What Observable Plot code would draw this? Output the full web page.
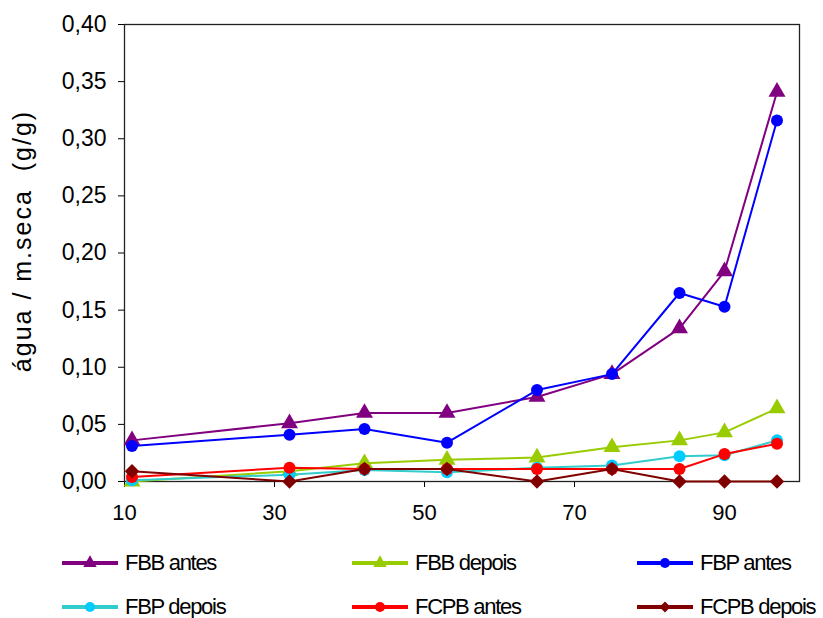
<!DOCTYPE html>
<html><head><meta charset="utf-8">
<script src="https://cdn.jsdelivr.net/npm/d3@7"></script>
<script src="https://cdn.jsdelivr.net/npm/@observablehq/plot@0.6"></script>
<style>
body{margin:0;background:#fff;font-family:"Liberation Sans",Arial,sans-serif;}
#wrap{position:relative;width:823px;height:618px;overflow:hidden;}
.leg{position:absolute;display:flex;align-items:center;font-size:22px;letter-spacing:-1.3px;color:#000;height:30px;}
.leg svg{margin-right:7px;}
.ylab text{letter-spacing:2px;}
</style></head><body><div id="wrap"></div>
<script>
// x values (tick positions on horizontal axis)
const xValues = [11, 32, 42, 53, 65, 75, 84, 90, 97];
const fbbAntes  = [0.036, 0.051, 0.060, 0.060, 0.074, 0.094, 0.134, 0.184, 0.341];
const fbbDepois = [0.000, 0.009, 0.016, 0.019, 0.021, 0.030, 0.036, 0.043, 0.064];
const fbpAntes  = [0.031, 0.041, 0.046, 0.034, 0.080, 0.094, 0.165, 0.153, 0.316];
const fbpDepois = [0.001, 0.006, 0.010, 0.008, 0.012, 0.014, 0.022, 0.023, 0.036];
const fcpbAntes = [0.004, 0.012, 0.011, 0.011, 0.011, 0.011, 0.011, 0.024, 0.033];
const fcpbDepois= [0.009, 0.000, 0.011, 0.011, 0.000, 0.011, 0.000, 0.000, 0.000];
const seriesNames = ["FBB antes","FBB depois","FBP antes","FBP depois","FCPB antes","FCPB depois"];
const xTicks = [10, 30, 50, 70, 90];
const yTicks = [0, 0.05, 0.10, 0.15, 0.20, 0.25, 0.30, 0.35, 0.40];
const yLabel = "água / m.seca  (g/g)";

const seriesValues = [fbbAntes, fbbDepois, fbpAntes, fbpDepois, fcpbAntes, fcpbDepois];
const styles = [
  {line:"#800080", fill:"#800080", sym:d3.symbolTriangle, r:6.3},
  {line:"#99CC00", fill:"#99CC00", sym:d3.symbolTriangle, r:6.3},
  {line:"#0000FF", fill:"#0000FF", sym:d3.symbolCircle, r:6},
  {line:"#33CCCC", fill:"#00CCFF", sym:d3.symbolCircle, r:6},
  {line:"#FF0000", fill:"#FF0000", sym:d3.symbolCircle, r:6},
  {line:"#800000", fill:"#800000", sym:d3.symbolDiamond2, r:6.5}
];
const rows = seriesNames.map((name, i) => xValues.map((x, j) => ({series: name, x, y: seriesValues[i][j]})));

const marks = [];
rows.forEach((data, i) => {
  marks.push(Plot.line(data, {x:"x", y:"y", stroke: styles[i].line, strokeWidth: 2}));
  marks.push(Plot.dot(data, {x:"x", y:"y", fill: styles[i].fill, stroke: "none", symbol: styles[i].sym, r: styles[i].r}));
});

const chart = Plot.plot({
  width: 823, height: 530,
  marginTop: 24, marginBottom: 49, marginLeft: 124, marginRight: 24,
  style: {fontFamily: "'Liberation Sans', Arial, sans-serif", fontSize: "22px", color: "#000", background: "#fff"},
  x: {domain: [10, 100]},
  y: {domain: [0, 0.4]},
  marks: [
    Plot.axisX({ticks: xTicks, tickSize: 6, tickPadding: 17, tickFormat: d => String(d), label: null, fontSize: 22}),
    Plot.axisY({ticks: yTicks, tickSize: 6, tickPadding: 12, tickFormat: d => d.toFixed(2).replace(".", ","), label: null, fontSize: 23}),
    Plot.text([yLabel], {text: d => d, frameAnchor: "left", textAnchor: "middle", lineAnchor: "middle", rotate: -90, dx: -102, dy: -12, fontSize: 25, fill: "#000", className: "ylab"}),
    Plot.frame({stroke: "#222", strokeWidth: 1.3}),
    ...marks
  ]
});
const wrap = document.getElementById("wrap");
wrap.appendChild(chart);

// legend
const legPos = [[62,548],[352,548],[637,548],[62,592],[352,592],[637,592]];
seriesNames.forEach((name, i) => {
  const div = document.createElement("div");
  div.className = "leg";
  div.style.left = legPos[i][0] + "px";
  div.style.top = legPos[i][1] + "px";
  const s = d3.create("svg").attr("width", 56).attr("height", 20);
  s.append("line").attr("x1", 0).attr("x2", 56).attr("y1", 10).attr("y2", 10)
    .attr("stroke", styles[i].line).attr("stroke-width", 4);
  s.append("path").attr("transform", "translate(28,10)")
    .attr("d", d3.symbol(styles[i].sym, Math.PI * 5 * 5)())
    .attr("fill", styles[i].fill);
  div.appendChild(s.node());
  const t = document.createElement("span");
  t.textContent = name;
  div.appendChild(t);
  wrap.appendChild(div);
});
</script>
</body></html>
